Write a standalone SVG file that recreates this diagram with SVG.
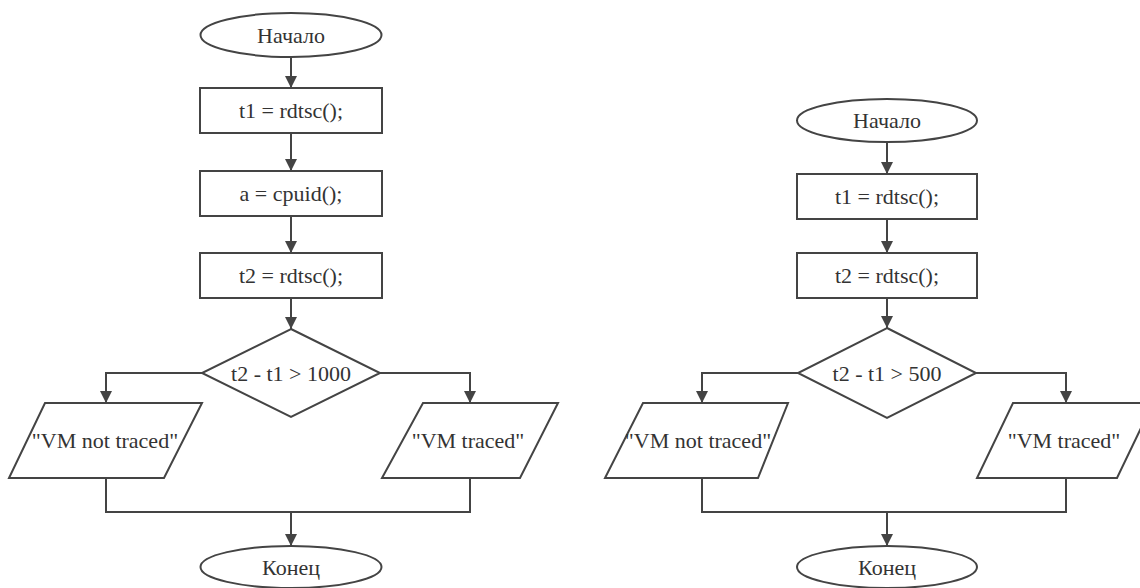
<svg xmlns="http://www.w3.org/2000/svg" width="1140" height="588" viewBox="0 0 1140 588">
<style>
.n{fill:#fff;stroke:#444;stroke-width:2}
.t{font-family:'Liberation Serif','Times New Roman',serif;font-size:22px;fill:#333;text-anchor:middle}
.c{fill:none;stroke:#444;stroke-width:2}
.a{marker-end:url(#ah)}
</style>
<defs>
<marker id="ah" markerUnits="userSpaceOnUse" markerWidth="12" markerHeight="12" refX="12" refY="6" orient="auto">
<path d="M0,0 L12,6 L0,12 z" fill="#444"/>
</marker>
</defs>
<rect width="1140" height="588" fill="#fff"/>
<g id="connectors">
<line class="c a" x1="291" y1="57" x2="291" y2="88"/>
<line class="c a" x1="291" y1="133" x2="291" y2="171"/>
<line class="c a" x1="291" y1="216" x2="291" y2="253"/>
<line class="c a" x1="291" y1="298" x2="291" y2="329"/>
<polyline class="c a" points="202,373 106,373 106,403"/>
<polyline class="c a" points="380,373 470,373 470,403"/>
<polyline class="c" points="106,478 106,512 470,512 470,478"/>
<line class="c a" x1="291" y1="512" x2="291" y2="546"/>
<line class="c a" x1="887" y1="142" x2="887" y2="174"/>
<line class="c a" x1="887" y1="219" x2="887" y2="253"/>
<line class="c a" x1="887" y1="298" x2="887" y2="328"/>
<polyline class="c a" points="798,373 702,373 702,403"/>
<polyline class="c a" points="976,373 1066,373 1066,403"/>
<polyline class="c" points="702,478 702,512 1066,512 1066,478"/>
<line class="c a" x1="887" y1="512" x2="887" y2="546"/>
</g>
<g id="l-start"><ellipse class="n" cx="291" cy="35" rx="90.5" ry="22"/><text class="t" x="291" y="43">Начало</text></g>
<g id="l-t1"><rect class="n" x="200" y="88" width="182" height="45"/><text class="t" x="291" y="118">t1 = rdtsc();</text></g>
<g id="l-a"><rect class="n" x="200" y="171" width="182" height="45"/><text class="t" x="291" y="201">a = cpuid();</text></g>
<g id="l-t2"><rect class="n" x="200" y="253" width="182" height="45"/><text class="t" x="291" y="283">t2 = rdtsc();</text></g>
<g id="l-cond"><polygon class="n" points="291,329 380,373 291,417 202,373"/><text class="t" x="291" y="381">t2 - t1 &gt; 1000</text></g>
<g id="l-not"><polygon class="n" points="45,403 202,403 164,478 9,478"/><text class="t" x="105" y="448">"VM not traced"</text></g>
<g id="l-traced"><polygon class="n" points="423,403 558,403 520,478 382,478"/><text class="t" x="468" y="448">"VM traced"</text></g>
<g id="l-end"><ellipse class="n" cx="291" cy="567" rx="90.5" ry="21"/><text class="t" x="291" y="575">Конец</text></g>
<g id="r-start"><ellipse class="n" cx="887" cy="120.5" rx="90" ry="21.5"/><text class="t" x="887" y="128">Начало</text></g>
<g id="r-t1"><rect class="n" x="797" y="174" width="180" height="45"/><text class="t" x="887" y="204">t1 = rdtsc();</text></g>
<g id="r-t2"><rect class="n" x="797" y="253" width="180" height="45"/><text class="t" x="887" y="283">t2 = rdtsc();</text></g>
<g id="r-cond"><polygon class="n" points="887,328 976,373 887,418 798,373"/><text class="t" x="887" y="381">t2 - t1 &gt; 500</text></g>
<g id="r-not"><polygon class="n" points="643,403 788,403 758,478 605,478"/><text class="t" x="698" y="448">"VM not traced"</text></g>
<g id="r-traced"><polygon class="n" points="1013,403 1153,403 1117,478 977,478"/><text class="t" x="1064" y="448">"VM traced"</text></g>
<g id="r-end"><ellipse class="n" cx="887" cy="567" rx="90" ry="21"/><text class="t" x="887" y="575">Конец</text></g>
</svg>
